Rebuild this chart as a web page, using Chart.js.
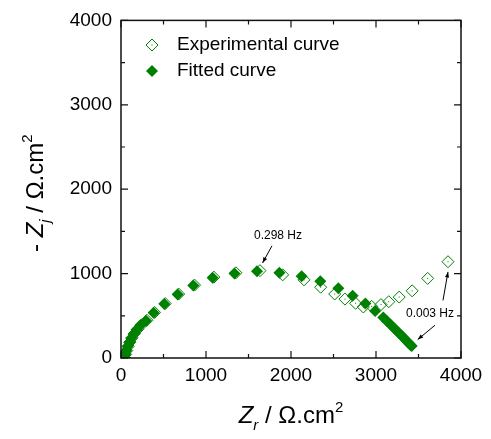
<!DOCTYPE html>
<html>
<head>
<meta charset="utf-8">
<script src="https://cdn.jsdelivr.net/npm/chart.js@4/dist/chart.umd.min.js"></script>
<style>
  html, body { margin: 0; padding: 0; background: #fff; }
  #wrap { width: 491px; height: 439px; position: relative; }
</style>
</head>
<body>
<div id="wrap"><canvas id="nyquist"></canvas></div>
<script>
// Nyquist data (Ohm.cm2)
const expZr = [45, 55, 68, 85, 105, 130, 160, 196, 243, 305, 395, 520, 678, 865, 1092, 1352, 1635, 1902, 2153, 2349, 2514, 2635, 2760, 2851, 2949, 3059, 3150, 3273, 3425, 3608, 3847];
const expZj = [2, 42, 88, 138, 189, 239, 290, 340, 393, 447, 540, 645, 758, 864, 958, 1010, 1035, 985, 926, 839, 758, 698, 648, 604, 612, 633, 667, 722, 796, 943, 1141];

const fitZr = [40, 50, 62, 78, 97, 120, 148, 182, 228, 294, 384, 510, 667, 851, 1078, 1335, 1600, 1863, 2125, 2345, 2557, 2725, 2875, 2990, 3086, 3130, 3170, 3205, 3240, 3270, 3300, 3325, 3350, 3372, 3392, 3408, 3420];
const fitZj = [0, 40, 85, 135, 185, 235, 285, 335, 388, 442, 535, 640, 752, 858, 950, 1000, 1027, 1010, 970, 910, 825, 738, 647, 557, 480, 436, 396, 361, 326, 296, 266, 240, 214, 190, 169, 152, 141];

const axisTicks = [0, 1000, 2000, 3000, 4000];
const seriesNames = ['Experimental curve', 'Fitted curve'];

const green = '#008000';
const fontFamily = "'Liberation Sans', Arial, sans-serif";
const markerSize = 6;

function toPoints(xs, ys) {
    return xs.map((x, i) => ({ x: x, y: ys[i] }));
}

// diamond marker, same shape as the chart points
function diamond(ctx, x, y, r, filled) {
    ctx.beginPath();
    ctx.moveTo(x, y - r);
    ctx.lineTo(x + r, y);
    ctx.lineTo(x, y + r);
    ctx.lineTo(x - r, y);
    ctx.closePath();
    if (filled) {
        ctx.fillStyle = green;
        ctx.fill();
    } else {
        ctx.strokeStyle = green;
        ctx.lineWidth = 1;
        ctx.stroke();
        ctx.fillStyle = green;
        ctx.fillRect(x - 0.5, y - 0.5, 1, 1);
    }
}

// text with italic / sub / superscript parts, centred on x
function richText(ctx, runs, x, y, size) {
    const parts = runs.map(r => {
        const s = (r.sub || r.sup) ? Math.round(size * 0.62) : size;
        const font = (r.italic ? 'italic ' : '') + s + 'px ' + fontFamily;
        ctx.font = font;
        return { t: r.t, font: font, w: ctx.measureText(r.t).width, dy: r.sub ? size * 0.3 : (r.sup ? -size * 0.45 : 0) };
    });
    const total = parts.reduce((s, p) => s + p.w, 0);
    let cx = x - total / 2;
    ctx.textAlign = 'left';
    ctx.textBaseline = 'alphabetic';
    parts.forEach(p => {
        ctx.font = p.font;
        ctx.fillText(p.t, cx, y + p.dy);
        cx += p.w;
    });
}

function arrow(ctx, x1, y1, x2, y2) {
    const ang = Math.atan2(y2 - y1, x2 - x1);
    const h = 6;
    ctx.beginPath();
    ctx.moveTo(x1, y1);
    ctx.lineTo(x2, y2);
    ctx.stroke();
    ctx.beginPath();
    ctx.moveTo(x2, y2);
    ctx.lineTo(x2 - h * Math.cos(ang - 0.35), y2 - h * Math.sin(ang - 0.35));
    ctx.lineTo(x2 - h * Math.cos(ang + 0.35), y2 - h * Math.sin(ang + 0.35));
    ctx.closePath();
    ctx.fill();
}

// frame, inward ticks, axis titles, legend and frequency labels
const decorations = {
    id: 'decorations',
    afterDraw(chart) {
        const ctx = chart.ctx;
        const a = chart.chartArea;
        const xs = chart.scales.x;
        const ys = chart.scales.y;
        ctx.save();

        // centre dots of the open diamonds
        ctx.fillStyle = green;
        chart.getDatasetMeta(0).data.forEach(p => ctx.fillRect(p.x - 0.5, p.y - 0.5, 1, 1));

        // box
        ctx.strokeStyle = '#111';
        ctx.lineWidth = 1.5;
        ctx.strokeRect(a.left, a.top, a.right - a.left, a.bottom - a.top);

        // major + minor ticks on all four sides, pointing in
        const minorStep = (axisTicks[1] - axisTicks[0]) / 2;
        ctx.lineWidth = 1.2;
        for (let v = axisTicks[0]; v <= axisTicks[axisTicks.length - 1]; v += minorStep) {
            const len = axisTicks.includes(v) ? 7 : 4;
            const px = xs.getPixelForValue(v);
            const py = ys.getPixelForValue(v);
            ctx.beginPath();
            ctx.moveTo(px, a.bottom); ctx.lineTo(px, a.bottom - len);
            ctx.moveTo(px, a.top); ctx.lineTo(px, a.top + len);
            ctx.moveTo(a.left, py); ctx.lineTo(a.left + len, py);
            ctx.moveTo(a.right, py); ctx.lineTo(a.right - len, py);
            ctx.stroke();
        }

        // axis titles
        ctx.fillStyle = '#000';
        richText(ctx, [
            { t: 'Z', italic: true }, { t: 'r', italic: true, sub: true },
            { t: ' / \u03A9.cm' }, { t: '2', sup: true }
        ], (a.left + a.right) / 2, 423, 24);

        ctx.save();
        ctx.translate(43, (a.top + a.bottom) / 2 + 4);
        ctx.rotate(-Math.PI / 2);
        richText(ctx, [
            { t: '- ' }, { t: 'Z', italic: true }, { t: 'j', italic: true, sub: true },
            { t: ' / \u03A9.cm' }, { t: '2', sup: true }
        ], 0, 0, 24);
        ctx.restore();

        // legend
        diamond(ctx, 152, 45, markerSize, false);
        diamond(ctx, 152, 71, markerSize, true);
        ctx.fillStyle = '#000';
        ctx.font = '19px ' + fontFamily;
        ctx.textAlign = 'left';
        ctx.textBaseline = 'middle';
        ctx.fillText(seriesNames[0], 177, 45);
        ctx.fillText(seriesNames[1], 177, 71);

        // frequency labels
        ctx.font = '12px ' + fontFamily;
        ctx.textAlign = 'center';
        ctx.fillText('0.298 Hz', xs.getPixelForValue(1847), ys.getPixelForValue(1447));
        ctx.fillText('0.003 Hz', xs.getPixelForValue(3635), ys.getPixelForValue(529));
        ctx.strokeStyle = '#000';
        ctx.lineWidth = 1;
        arrow(ctx, xs.getPixelForValue(1776), ys.getPixelForValue(1329), xs.getPixelForValue(1665), ys.getPixelForValue(1125));
        arrow(ctx, xs.getPixelForValue(3788), ys.getPixelForValue(682), xs.getPixelForValue(3847), ys.getPixelForValue(1020));
        arrow(ctx, xs.getPixelForValue(3694), ys.getPixelForValue(388), xs.getPixelForValue(3490), ys.getPixelForValue(218));

        ctx.restore();
    }
};

const tickFont = { family: fontFamily, size: 19 };

new Chart(document.getElementById('nyquist'), {
    type: 'scatter',
    data: {
        datasets: [{
            label: seriesNames[0],
            data: toPoints(expZr, expZj),
            pointStyle: 'rectRot',
            pointRadius: markerSize,
            borderColor: green,
            backgroundColor: 'rgba(255,255,255,0)',
            borderWidth: 1,
            order: 2
        }, {
            label: seriesNames[1],
            data: toPoints(fitZr, fitZj),
            pointStyle: 'rectRot',
            pointRadius: markerSize,
            borderColor: green,
            backgroundColor: green,
            borderWidth: 0,
            order: 1
        }]
    },
    options: {
        responsive: true,
        maintainAspectRatio: false,
        animation: false,
        layout: { padding: { top: 18, right: 30, left: 0, bottom: 0 } },
        plugins: {
            legend: { display: false },
            tooltip: { enabled: false }
        },
        scales: {
            x: {
                min: axisTicks[0],
                max: axisTicks[axisTicks.length - 1],
                afterBuildTicks: s => { s.ticks = axisTicks.map(v => ({ value: v })); },
                afterFit: s => { s.height = 81; },
                grid: { display: false, drawTicks: false },
                border: { display: false },
                ticks: { color: '#000', font: tickFont, padding: 6, maxRotation: 0, callback: v => String(v) }
            },
            y: {
                min: axisTicks[0],
                max: axisTicks[axisTicks.length - 1],
                afterBuildTicks: s => { s.ticks = axisTicks.map(v => ({ value: v })); },
                afterFit: s => { s.width = 121; },
                grid: { display: false, drawTicks: false },
                border: { display: false },
                ticks: { color: '#000', font: tickFont, padding: 9, callback: v => String(v) }
            }
        }
    },
    plugins: [decorations]
});
</script>
</body>
</html>
